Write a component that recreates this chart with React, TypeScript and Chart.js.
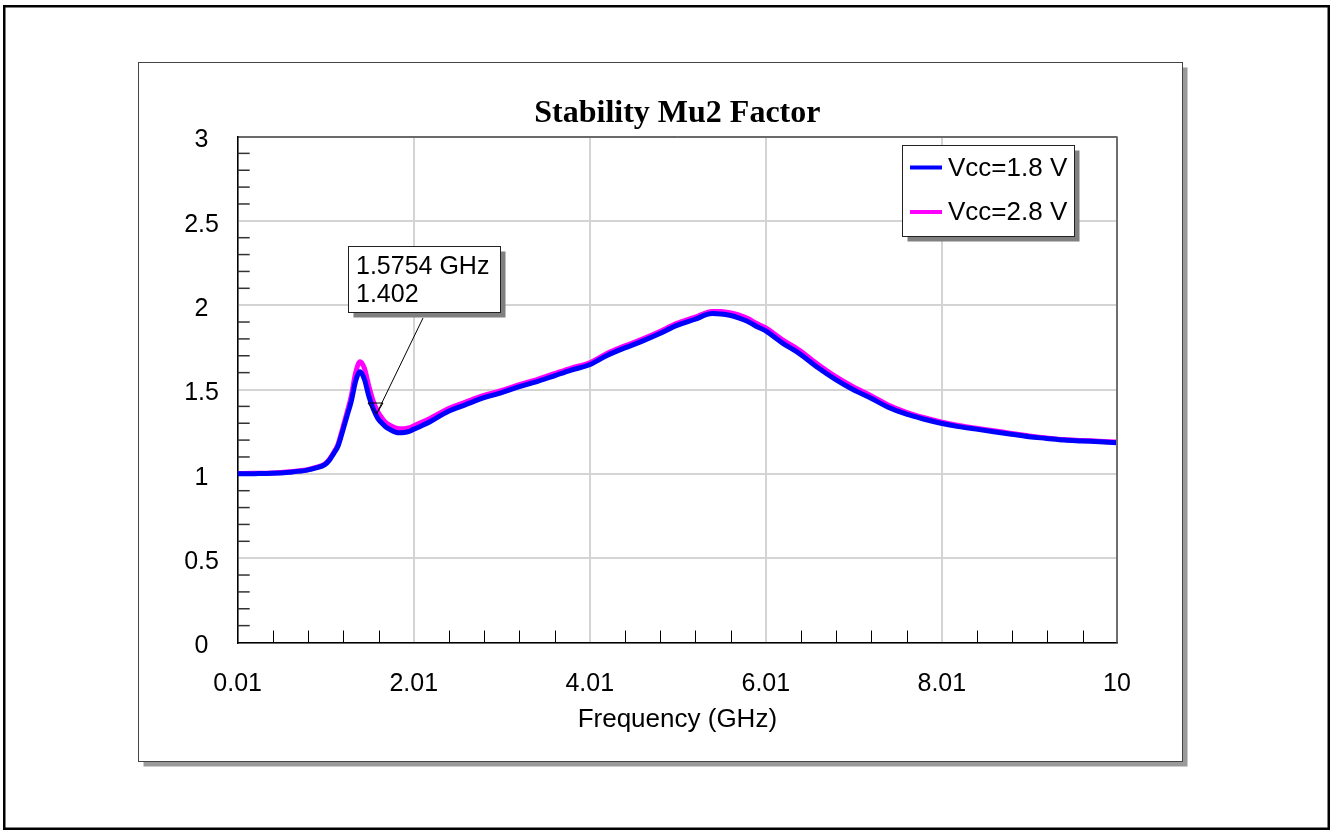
import { useEffect, useRef } from "react";
import { Chart, registerables } from "chart.js";

Chart.register(...registerables);

// ---------- data ----------
const freqGHz = [
  0.01, 0.2, 0.4, 0.6, 0.8, 0.9, 1.0, 1.05, 1.1, 1.15, 1.2, 1.25, 1.3, 1.35, 1.4, 1.45,
  1.5, 1.55, 1.6, 1.65, 1.7, 1.75, 1.8, 1.85, 1.9, 1.95, 2.0, 2.1, 2.2, 2.4, 2.6, 2.8,
  3.0, 3.2, 3.4, 3.6, 3.8, 4.0, 4.2, 4.4, 4.6, 4.8, 5.0, 5.2, 5.4, 5.5, 5.6, 5.7, 5.8,
  5.9, 6.0, 6.2, 6.4, 6.6, 6.8, 7.0, 7.2, 7.4, 7.6, 7.8, 8.0, 8.2, 8.4, 8.6, 8.8, 9.0,
  9.2, 9.4, 9.6, 9.8, 10.0,
];

const mu2Vcc18 = [
  1.0, 1.001, 1.003, 1.01, 1.022, 1.035, 1.055, 1.08, 1.12, 1.165, 1.25, 1.34, 1.43, 1.55,
  1.605, 1.56, 1.46, 1.385, 1.33, 1.3, 1.275, 1.26, 1.248, 1.243, 1.245, 1.25, 1.262, 1.285,
  1.31, 1.37, 1.41, 1.45, 1.48, 1.515, 1.545, 1.58, 1.615, 1.645, 1.7, 1.745, 1.785, 1.83,
  1.88, 1.915, 1.95, 1.948, 1.94, 1.925, 1.905, 1.875, 1.85, 1.775, 1.71, 1.63, 1.56, 1.5,
  1.45, 1.395, 1.355, 1.325, 1.3, 1.28, 1.265, 1.25, 1.235, 1.22, 1.21, 1.2, 1.195, 1.19,
  1.185,
];

const mu2Vcc28 = [
  1.002, 1.003, 1.005, 1.012, 1.024, 1.038, 1.058, 1.085, 1.125, 1.175, 1.265, 1.36, 1.46,
  1.6, 1.665, 1.625, 1.52, 1.43, 1.37, 1.33, 1.3, 1.285, 1.273, 1.268, 1.268, 1.272, 1.282,
  1.305, 1.33, 1.385, 1.425, 1.463, 1.493, 1.527, 1.557, 1.592, 1.627, 1.657, 1.712, 1.757,
  1.797, 1.842, 1.892, 1.927, 1.963, 1.962, 1.955, 1.942, 1.922, 1.893, 1.868, 1.795, 1.73,
  1.65, 1.578, 1.517, 1.465, 1.408, 1.366, 1.334, 1.308, 1.287, 1.27, 1.255, 1.24, 1.225,
  1.213, 1.203, 1.198, 1.193, 1.188,
];

const seriesLabels = ["Vcc=1.8 V", "Vcc=2.8 V"];
const seriesColors = ["#0000ff", "#ff00ff"];
const xTickValues = [0.01, 2.01, 4.01, 6.01, 8.01, 10];
const xTickLabels = ["0.01", "2.01", "4.01", "6.01", "8.01", "10"];
const yTickLabels = ["0", "0.5", "1", "1.5", "2", "2.5", "3"];
const chartTitle = "Stability Mu2 Factor";
const xAxisTitle = "Frequency (GHz)";
const markerFreq = 1.5754;
const markerValue = 1.402;
const markerText = ["1.5754 GHz", "1.402"];

const W = 1330;
const H = 830;
const SANS = "'Liberation Sans', Arial, sans-serif";
const SERIF = "'Liberation Serif', 'Times New Roman', serif";

const line = (ctx: CanvasRenderingContext2D, x1: number, y1: number, x2: number, y2: number) => {
  ctx.beginPath();
  ctx.moveTo(x1, y1);
  ctx.lineTo(x2, y2);
  ctx.stroke();
};

const boxWithShadow = (ctx: CanvasRenderingContext2D, x: number, y: number, w: number, h: number, shadow: string, border: string) => {
  ctx.fillStyle = shadow;
  ctx.fillRect(x + 5, y + 5, w, h);
  ctx.fillStyle = "#ffffff";
  ctx.fillRect(x, y, w, h);
  ctx.strokeStyle = border;
  ctx.lineWidth = 1;
  ctx.strokeRect(x, y, w, h);
};

const decorPlugin = {
  id: "decor",
  beforeDraw(chart: any) {
    const ctx: CanvasRenderingContext2D = chart.ctx;
    ctx.save();
    ctx.fillStyle = "#ffffff";
    ctx.fillRect(0, 0, W, H);
    ctx.strokeStyle = "#000000";
    ctx.lineWidth = 2.5;
    ctx.strokeRect(4.25, 6.25, 1324.5, 822.5);
    boxWithShadow(ctx, 138.5, 62.5, 1044, 699, "#9a9a9a", "#444444");
    ctx.restore();
  },
  afterDraw(chart: any) {
    const ctx: CanvasRenderingContext2D = chart.ctx;
    const { left, right, top, bottom } = chart.chartArea;
    const xs = chart.scales.x;
    const ys = chart.scales.y;
    ctx.save();
    // minor ticks on x axis
    ctx.strokeStyle = "#000000";
    ctx.lineWidth = 1;
    for (let k = 1; k < 25; k++) {
      if (k % 5 === 0) continue;
      const px = Math.round(xs.getPixelForValue(0.01 + 0.4 * k)) + 0.5;
      line(ctx, px, bottom, px, bottom - 12);
    }
    // minor ticks on y axis
    ctx.strokeStyle = "#333333";
    ctx.lineWidth = 1.5;
    for (let k = 1; k < 30; k++) {
      if (k % 5 === 0) continue;
      const py = ys.getPixelForValue(k / 10);
      line(ctx, left, py, left + 12, py);
    }
    // frame top / right
    ctx.strokeStyle = "#000000";
    ctx.lineWidth = 1;
    line(ctx, left, top + 0.5, right, top + 0.5);
    ctx.strokeStyle = "#6e6e6e";
    ctx.lineWidth = 2;
    line(ctx, right, top, right, bottom);

    // legend
    boxWithShadow(ctx, 902.5, 145.5, 172, 91, "#808080", "#222222");
    ctx.font = `26px ${SANS}`;
    ctx.textBaseline = "middle";
    ctx.textAlign = "left";
    chart.data.datasets.forEach((ds: any, i: number) => {
      const cy = 167.5 + i * 44.5;
      ctx.strokeStyle = ds.borderColor;
      ctx.lineWidth = 4;
      line(ctx, 910, cy, 942, cy);
      ctx.fillStyle = "#000000";
      ctx.fillText(ds.label, 948, cy + 1);
    });

    // marker annotation
    const mx = xs.getPixelForValue(markerFreq);
    const my = ys.getPixelForValue(markerValue);
    ctx.strokeStyle = "#000000";
    ctx.lineWidth = 1;
    ctx.beginPath();
    ctx.moveTo(mx - 7.5, my - 3);
    ctx.lineTo(mx + 7.5, my - 3);
    ctx.lineTo(mx + 1, my + 8);
    ctx.closePath();
    ctx.stroke();
    line(ctx, 423, 318, mx + 1, my + 8);
    boxWithShadow(ctx, 348.5, 246.5, 152, 66, "#808080", "#222222");
    ctx.fillStyle = "#000000";
    ctx.font = `25px ${SANS}`;
    ctx.textBaseline = "middle";
    ctx.fillText(markerText[0], 356, 267);
    ctx.fillText(markerText[1], 356, 295);
    ctx.restore();
  },
};

export default function App() {
  const canvasRef = useRef<HTMLCanvasElement | null>(null);

  useEffect(() => {
    document.body.style.margin = "0";
    const canvas = canvasRef.current;
    if (!canvas) return;
    const chart = new Chart(canvas, {
      type: "line",
      data: {
        datasets: [
          {
            label: seriesLabels[0],
            data: freqGHz.map((f, i) => ({ x: f, y: mu2Vcc18[i] })),
            borderColor: seriesColors[0],
            backgroundColor: seriesColors[0],
            borderWidth: 5,
            pointRadius: 0,
            cubicInterpolationMode: "monotone",
          },
          {
            label: seriesLabels[1],
            data: freqGHz.map((f, i) => ({ x: f, y: mu2Vcc28[i] })),
            borderColor: seriesColors[1],
            backgroundColor: seriesColors[1],
            borderWidth: 5,
            pointRadius: 0,
            cubicInterpolationMode: "monotone",
          },
        ],
      },
      options: {
        animation: false,
        responsive: false,
        devicePixelRatio: 1,
        layout: { padding: { top: 95, left: 0, right: 213, bottom: 0 } },
        plugins: {
          legend: { display: false },
          tooltip: { enabled: false },
          title: {
            display: true,
            text: chartTitle,
            fullSize: false,
            color: "#000000",
            font: { family: SERIF, size: 32, weight: "bold", lineHeight: 1.2 },
            padding: { top: 0, bottom: 3.1 },
          },
        },
        scales: {
          x: {
            type: "linear",
            min: 0.01,
            max: 10,
            grid: { color: "#d4d4d4", lineWidth: 2, drawTicks: false },
            border: { display: true, color: "#000000", width: 1.5 },
            afterBuildTicks: (scale: any) => {
              scale.ticks = xTickValues.map((v) => ({ value: v }));
            },
            afterFit: (scale: any) => {
              scale.height = 187.5;
            },
            ticks: {
              autoSkip: false,
              maxRotation: 0,
              color: "#000000",
              padding: 27,
              font: { family: SANS, size: 25 },
              callback: (_v: any, i: number) => xTickLabels[i],
            },
            title: {
              display: true,
              text: xAxisTitle,
              color: "#000000",
              font: { family: SANS, size: 26, lineHeight: 1.2 },
              padding: { top: 0, bottom: 95 },
            },
          },
          y: {
            min: 0,
            max: 3,
            grid: { color: "#d4d4d4", lineWidth: 2, drawTicks: false },
            border: { display: true, color: "#000000", width: 1.5 },
            afterFit: (scale: any) => {
              scale.width = 237.7;
            },
            ticks: {
              stepSize: 0.5,
              crossAlign: "center",
              padding: 18.8,
              labelOffset: 4,
              color: "#000000",
              font: { family: SANS, size: 25 },
              callback: (_v: any, i: number) => yTickLabels[i],
            },
          },
        },
      },
      plugins: [decorPlugin],
    } as any);
    return () => chart.destroy();
  }, []);

  return (
    <div style={{ position: "absolute", left: 0, top: 0, width: W, height: H }}>
      <canvas ref={canvasRef} width={W} height={H} style={{ width: W, height: H, display: "block" }} />
    </div>
  );
}
